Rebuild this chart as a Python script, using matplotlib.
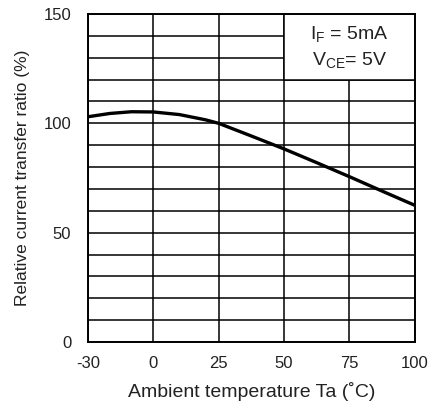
"""
Relative current transfer ratio vs ambient temperature (datasheet style).
"""

import matplotlib.pyplot as plt
from matplotlib.patches import Rectangle

plt.rcParams['font.family'] = ['Liberation Sans', 'DejaVu Sans']
plt.rcParams['mathtext.fontset'] = 'custom'
plt.rcParams['mathtext.rm'] = 'Liberation Sans'

# curve
TEMP = [-30, -20, -10, 0, 10, 20, 25, 37.5, 50, 62.5, 75, 87.5, 100]
CTR = [103.0, 104.5, 105.3, 105.2, 104.0, 101.6, 100.0, 94.2, 88.3, 82.0, 75.6, 69.0, 62.5]

X_TICKS = [-30, 0, 25, 50, 75, 100]
Y_TICKS = [0, 50, 100, 150]
Y_GRID = list(range(0, 151, 10))


# the -30..0 span is drawn as wide as a 25 degree span
def fwd(x):
    import numpy as np
    x = np.asarray(x, dtype=float)
    return np.where(x < 0, x * 25 / 30, x)


def inv(x):
    import numpy as np
    x = np.asarray(x, dtype=float)
    return np.where(x < 0, x * 30 / 25, x)


def main():
    fig = plt.figure(figsize=(4.33, 4.12), dpi=100)
    ax = fig.add_axes([0.203, 0.170, 0.755, 0.796])
    ax.set_xscale('function', functions=(fwd, inv))
    ax.set_xlim(-30, 100)
    ax.set_ylim(0, 150)

    # grid
    for y in Y_GRID:
        ax.axhline(y, color='black', linewidth=1.1, zorder=1)
    for x in X_TICKS:
        ax.axvline(x, color='black', linewidth=1.1, zorder=1)

    # condition box covers the upper right cells
    ax.add_patch(Rectangle((50, 120), 50, 30, facecolor='white',
                           edgecolor='black', linewidth=1.1, zorder=2))
    ax.text(75, 140.5, r'I$_\mathrm{F}$ = 5mA', ha='center', va='center',
            fontsize=14, color='#222222', zorder=3)
    ax.text(75, 128.5, r'V$_\mathrm{CE}$= 5V', ha='center', va='center',
            fontsize=14, color='#222222', zorder=3)

    ax.plot(TEMP, CTR, color='black', linewidth=2.4, zorder=4)

    ax.set_xticks(X_TICKS)
    ax.set_xticklabels([str(t) for t in X_TICKS])
    ax.set_yticks(Y_TICKS)
    ax.minorticks_off()
    ax.tick_params(length=0, labelsize=12, labelcolor='#222222')
    ax.tick_params(axis='x', pad=10)
    ax.tick_params(axis='y', pad=12)

    for s in ax.spines.values():
        s.set_linewidth(1.4)

    ax.set_xlabel('Ambient temperature Ta (˚C)', fontsize=14, color='#222222', labelpad=8)
    ax.set_ylabel('Relative current transfer ratio (%)', fontsize=12.5, color='#222222', labelpad=10)

    fig.savefig('out.png', dpi=100)
    plt.close(fig)


if __name__ == '__main__':
    main()
